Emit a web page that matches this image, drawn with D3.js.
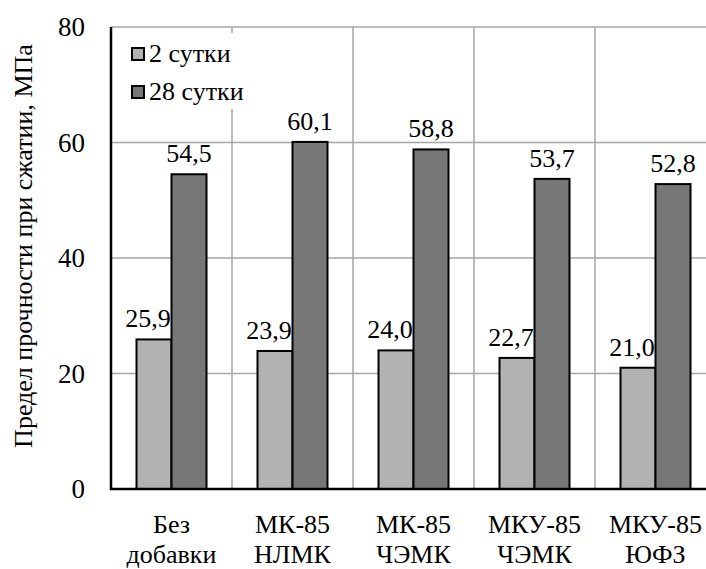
<!DOCTYPE html>
<html>
<head>
<meta charset="utf-8">
<script src="https://cdn.jsdelivr.net/npm/d3@7"></script>
</head>
<body style="margin:0">
<script>
// data
const categories = [["Без", "добавки"], ["МК-85", "НЛМК"], ["МК-85", "ЧЭМК"], ["МКУ-85", "ЧЭМК"], ["МКУ-85", "ЮФЗ"]];
const seriesNames = ["2 сутки", "28 сутки"];
const values2 = [25.9, 23.9, 24.0, 22.7, 21.0];
const values28 = [54.5, 60.1, 58.8, 53.7, 52.8];
const yTicks = [0, 20, 40, 60, 80];
const colors = ["#b2b2b2", "#777777"];

const width = 706, height = 569;
const plotLeft = 111, plotTop = 27, plotBottom = 489, plotRight = 716;
const FONT = "Times New Roman";

const svg = d3.select("body").append("svg")
    .attr("width", width).attr("height", height);

const x = d3.scaleBand().domain(d3.range(categories.length)).range([plotLeft, plotRight]).paddingInner(0).paddingOuter(0);
const y = d3.scaleLinear().domain([0, 80]).range([plotBottom, plotTop]);
const barW = 35;

// grid
svg.selectAll(".hgrid").data(yTicks.filter(d => d > 0)).enter().append("line")
    .attr("x1", plotLeft).attr("x2", plotRight)
    .attr("y1", d => y(d)).attr("y2", d => y(d))
    .attr("stroke", "#a6a6a6").attr("stroke-width", 1.5);
svg.selectAll(".vgrid").data(d3.range(1, categories.length + 1)).enter().append("line")
    .attr("x1", d => x(d - 1) + x.bandwidth()).attr("x2", d => x(d - 1) + x.bandwidth())
    .attr("y1", plotTop).attr("y2", plotBottom)
    .attr("stroke", "#a6a6a6").attr("stroke-width", 1.5);

// bars
const series = [values2, values28];
series.forEach((vals, s) => {
    svg.selectAll(".bar" + s).data(vals).enter().append("rect")
        .attr("x", (d, i) => x(i) + x.bandwidth() / 2 - barW + s * barW)
        .attr("y", d => y(d))
        .attr("width", barW)
        .attr("height", d => plotBottom - y(d))
        .attr("fill", colors[s]).attr("stroke", "#000").attr("stroke-width", 2);
    svg.selectAll(".lbl" + s).data(vals).enter().append("text")
        .attr("x", (d, i) => x(i) + x.bandwidth() / 2 - barW / 2 + s * barW - (s === 0 ? 6 : 0))
        .attr("y", d => y(d) - 12)
        .attr("text-anchor", "middle").attr("font-size", 26).attr("font-family", FONT)
        .text(d => d.toFixed(1).replace(".", ","));
});

// axes lines
svg.append("line").attr("x1", plotLeft).attr("x2", plotLeft).attr("y1", plotTop).attr("y2", plotBottom + 1)
    .attr("stroke", "#000").attr("stroke-width", 2.5);
svg.append("line").attr("x1", plotLeft - 1).attr("x2", plotRight).attr("y1", plotBottom).attr("y2", plotBottom)
    .attr("stroke", "#000").attr("stroke-width", 2.5);

// y tick labels
svg.selectAll(".ytick").data(yTicks).enter().append("text")
    .attr("x", 85).attr("y", d => y(d) + 9)
    .attr("text-anchor", "end").attr("font-size", 27).attr("font-family", FONT)
    .text(d => d);

// x labels
categories.forEach((c, i) => {
    const t = svg.append("text").attr("text-anchor", "middle").attr("font-size", 26).attr("font-family", FONT);
    c.forEach((line, j) => {
        t.append("tspan").attr("x", x(i) + x.bandwidth() / 2).attr("y", 533 + j * 30).text(line);
    });
});

// y title
svg.append("text")
    .attr("transform", "translate(32,246) rotate(-90)")
    .attr("text-anchor", "middle").attr("font-size", 26).attr("font-family", FONT)
    .text("Предел прочности при сжатии, МПа");

// legend
const lg = svg.append("g");
lg.append("rect").attr("x", 120).attr("y", 33).attr("width", 135).attr("height", 76).attr("fill", "#fff");
seriesNames.forEach((n, i) => {
    lg.append("rect").attr("x", 132).attr("y", 48 + i * 38).attr("width", 12).attr("height", 12)
        .attr("fill", colors[i]).attr("stroke", "#000").attr("stroke-width", 2);
    lg.append("text").attr("x", 149).attr("y", 62 + i * 38).attr("font-size", 26).attr("font-family", FONT).text(n);
});
</script>
</body>
</html>
